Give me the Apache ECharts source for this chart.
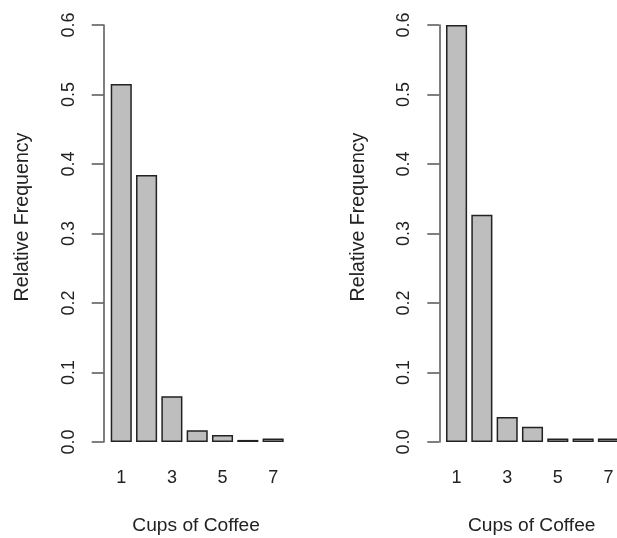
<!DOCTYPE html>
<html>
<head>
<meta charset="utf-8">
<script src="https://cdn.jsdelivr.net/npm/echarts@6/dist/echarts.min.js"></script>
<style>
  html, body { margin: 0; padding: 0; background: #ffffff; }
  #chart { width: 617px; height: 538px; }
</style>
</head>
<body>
<div id="chart"></div>
<script>
// Cups of coffee per day (categories) and relative frequency of each, two samples
const cups = ['1', '2', '3', '4', '5', '6', '7'];
const freqLeft = [0.515, 0.384, 0.066, 0.017, 0.010, 0.003, 0.005];
const freqRight = [0.600, 0.327, 0.036, 0.022, 0.005, 0.005, 0.005];
const yTicks = [0.0, 0.1, 0.2, 0.3, 0.4, 0.5, 0.6];

const FONT = "'Liberation Sans', Arial, sans-serif";
const TEXT = '#222222';
const AXIS = '#555555';

const chart = echarts.init(document.getElementById('chart'), null, { renderer: 'canvas' });

// Geometry of each panel: bars sit in equal bands; the y axis line sits a little left of the first band.
// The right panel runs past the page edge, so its last bar is cut off.
const panels = [
  { left: 108.6, axisX: 103.7, data: freqLeft },
  { left: 443.9, axisX: 439.3, data: freqRight }
];
const bandWidth = 177.2;
const plotTop = 25;
const plotHeight = 417;

function yAxisFor(i) {
  const p = panels[i];
  return {
    gridIndex: i,
    type: 'value',
    min: yTicks[0],
    max: yTicks[yTicks.length - 1],
    interval: 0.1,
    offset: p.left - p.axisX,
    axisLine: { show: true, lineStyle: { color: AXIS, width: 1.5 } },
    axisTick: { show: true, length: 12, lineStyle: { color: AXIS, width: 1.5 } },
    splitLine: { show: false },
    axisLabel: {
      rotate: 90,
      margin: 26,
      color: TEXT,
      fontFamily: FONT,
      fontSize: 18,
      lineHeight: 18,
      formatter: v => v.toFixed(1)
    }
  };
}

function xAxisFor(i) {
  return {
    gridIndex: i,
    type: 'category',
    data: cups,
    axisLine: { show: false },
    axisTick: { show: false },
    axisLabel: {
      interval: 1,
      margin: 27,
      color: TEXT,
      fontFamily: FONT,
      fontSize: 18,
      lineHeight: 18
    }
  };
}

function titleTexts(i) {
  const p = panels[i];
  const plotCenter = p.axisX + 93.4;
  return [
    {
      type: 'text',
      x: p.axisX - 81,
      y: 217,
      rotation: Math.PI / 2,
      style: {
        text: 'Relative Frequency',
        fill: TEXT,
        font: '19.6px ' + FONT,
        textAlign: 'center',
        textVerticalAlign: 'middle'
      }
    },
    {
      type: 'text',
      x: plotCenter - 1,
      y: 526,
      style: {
        text: 'Cups of Coffee',
        fill: TEXT,
        font: '19.2px ' + FONT,
        textAlign: 'center',
        textVerticalAlign: 'middle'
      }
    }
  ];
}

chart.setOption({
  animation: false,
  backgroundColor: '#ffffff',
  grid: panels.map(p => ({
    left: p.left, top: plotTop, width: bandWidth, height: plotHeight,
    containLabel: false, outerBoundsMode: 'none'
  })),
  xAxis: [xAxisFor(0), xAxisFor(1)],
  yAxis: [yAxisFor(0), yAxisFor(1)],
  series: panels.map((p, i) => ({
    type: 'bar',
    xAxisIndex: i,
    yAxisIndex: i,
    data: p.data,
    barCategoryGap: '16.67%',
    itemStyle: { color: '#BEBEBE', borderColor: '#222222', borderWidth: 1.5 }
  })),
  graphic: titleTexts(0).concat(titleTexts(1))
});
</script>
</body>
</html>
